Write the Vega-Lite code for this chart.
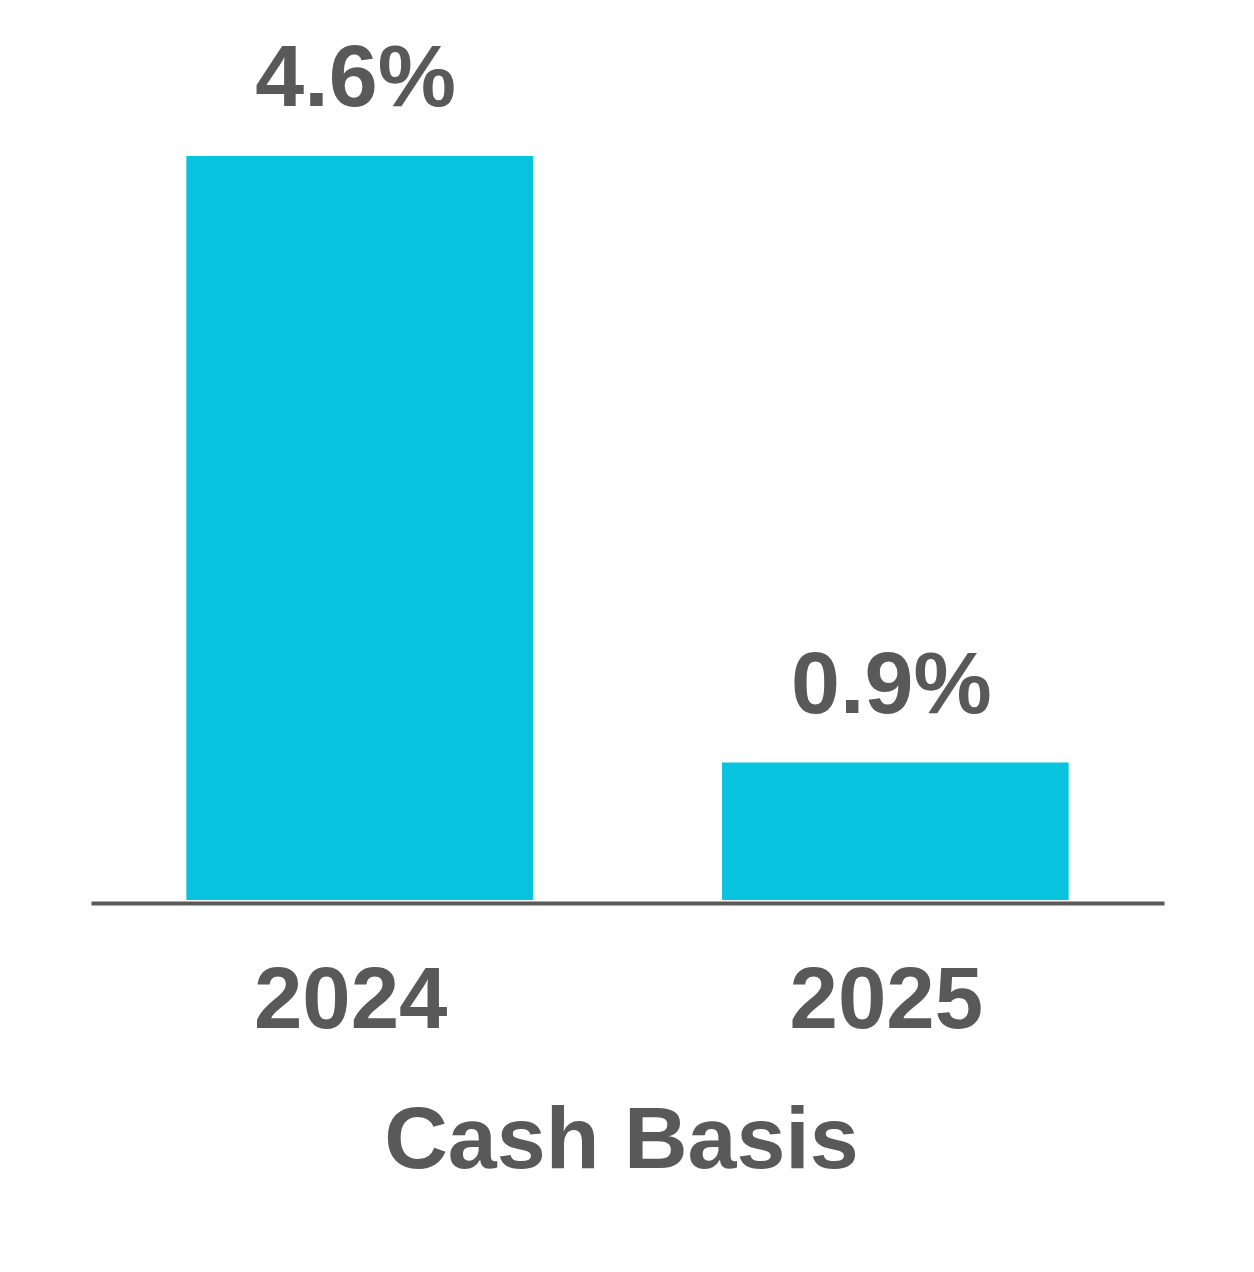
{
  "$schema": "https://vega.github.io/schema/vega-lite/v6.json",
  "autosize": "none",
  "width": 1073,
  "height": 900,
  "padding": {"left": 91, "top": 0, "right": 90, "bottom": 372},
  "background": "white",
  "config": {"view": {"stroke": null}, "font": "Liberation Sans"},
  "data": {"values": [
    {"year": "2024", "value": 4.6, "label": "4.6%"},
    {"year": "2025", "value": 0.85, "label": "0.9%"}
  ]},
  "encoding": {
    "x": {
      "field": "year", "type": "nominal", "sort": null,
      "scale": {"paddingInner": 0.353, "paddingOuter": 0.178},
      "axis": {
        "title": "Cash Basis", "labelAngle": 0, "ticks": false, "offset": 3,
        "domainColor": "#595959", "domainWidth": 4,
        "labelFont": "Liberation Sans", "labelFontWeight": "bold", "labelFontSize": 87, "labelColor": "#595959",
        "labelPadding": 55, "labelOffset": -9, "labelLimit": 0,
        "titleFont": "Liberation Sans", "titleFontWeight": "bold", "titleFontSize": 88, "titleColor": "#595959",
        "titlePadding": 53, "titleX": 530, "titleAlign": "center"
      }
    },
    "y": {
      "field": "value", "type": "quantitative",
      "scale": {"domain": [0, 5.565], "nice": false, "zero": true},
      "axis": null
    }
  },
  "layer": [
    {"mark": {"type": "bar", "color": "#08C3DE"}},
    {"mark": {"type": "text", "baseline": "alphabetic", "dy": -50, "dx": -4, "font": "Liberation Sans", "fontWeight": "bold", "fontSize": 88, "color": "#595959"},
     "encoding": {"text": {"field": "label"}}}
  ]
}
